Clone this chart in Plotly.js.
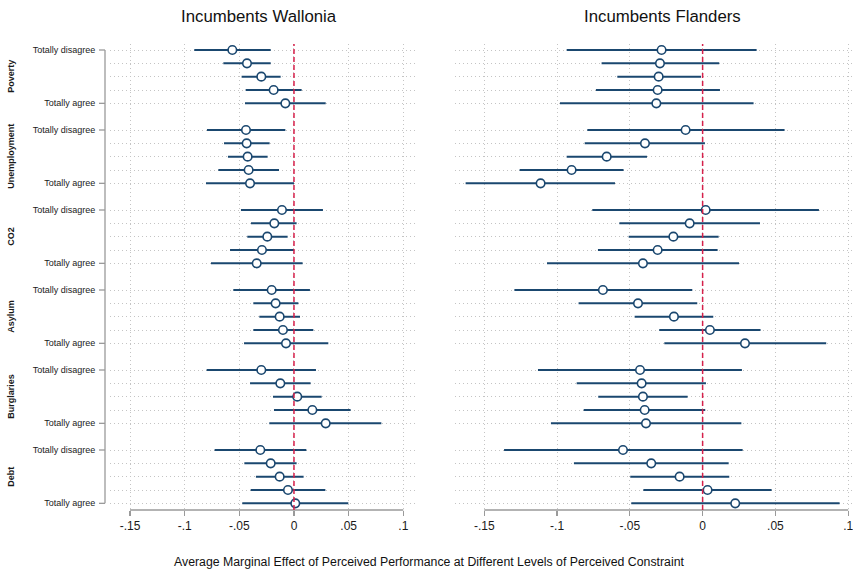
<!DOCTYPE html>
<html>
<head>
<meta charset="utf-8">
<script src="https://cdn.plot.ly/plotly-3.0.1.min.js"></script>
<style>html,body{margin:0;padding:0;background:#fff;}#chart{width:853px;height:570px;}</style>
</head>
<body>
<div id="chart"></div>
<script>
// ---- data ----
const groups = ['Poverty', 'Unemployment', 'CO2', 'Asylum', 'Burglaries', 'Debt'];
const levelLabels = ['Totally disagree', '', '', '', 'Totally agree'];
const panelTitles = ['Incumbents Wallonia', 'Incumbents Flanders'];
const xTickVals = [-0.15, -0.1, -0.05, 0, 0.05, 0.1];
const xTickText = ['-.15', '-.1', '-.05', '0', '.05', '.1'];
const xTitle = 'Average Marginal Effect of Perceived Performance at Different Levels of Perceived Constraint';

const walEst = [-0.0564, -0.0430, -0.0299, -0.0186, -0.0079,
  -0.0439, -0.0433, -0.0424, -0.0415, -0.0402,
  -0.0110, -0.0180, -0.0244, -0.0293, -0.0341,
  -0.0204, -0.0168, -0.0131, -0.0101, -0.0073,
  -0.0299, -0.0125, 0.0030, 0.0168, 0.0290,
  -0.0308, -0.0213, -0.0131, -0.0055, 0.0012];
const walLo = [-0.0912, -0.0646, -0.0479, -0.0442, -0.0448,
  -0.0796, -0.0640, -0.0604, -0.0692, -0.0805,
  -0.0485, -0.0393, -0.0427, -0.0585, -0.0759,
  -0.0555, -0.0372, -0.0317, -0.0372, -0.0457,
  -0.0799, -0.0402, -0.0192, -0.0183, -0.0226,
  -0.0726, -0.0454, -0.0348, -0.0396, -0.0473];
const walHi = [-0.0213, -0.0213, -0.0122, 0.0070, 0.0290,
  -0.0079, -0.0223, -0.0241, -0.0137, 0.0000,
  0.0265, 0.0024, -0.0058, 0.0000, 0.0079,
  0.0146, 0.0040, 0.0055, 0.0177, 0.0314,
  0.0201, 0.0152, 0.0253, 0.0518, 0.0799,
  0.0113, 0.0024, 0.0088, 0.0287, 0.0497];

const flaEst = [-0.0282, -0.0293, -0.0302, -0.0309, -0.0318,
  -0.0117, -0.0396, -0.0659, -0.0900, -0.1113,
  0.0021, -0.0089, -0.0201, -0.0309, -0.0410,
  -0.0685, -0.0444, -0.0197, 0.0050, 0.0291,
  -0.0430, -0.0419, -0.0410, -0.0398, -0.0389,
  -0.0547, -0.0353, -0.0158, 0.0034, 0.0224];
const flaLo = [-0.0934, -0.0694, -0.0586, -0.0733, -0.0980,
  -0.0792, -0.0810, -0.0934, -0.1257, -0.1628,
  -0.0758, -0.0572, -0.0508, -0.0719, -0.1069,
  -0.1293, -0.0852, -0.0467, -0.0298, -0.0263,
  -0.1131, -0.0865, -0.0717, -0.0817, -0.1042,
  -0.1364, -0.0884, -0.0497, -0.0407, -0.0490];
const flaHi = [0.0371, 0.0114, -0.0011, 0.0119, 0.0350,
  0.0563, 0.0016, -0.0382, -0.0543, -0.0602,
  0.0799, 0.0394, 0.0110, 0.0103, 0.0250,
  -0.0071, -0.0037, 0.0073, 0.0398, 0.0849,
  0.0270, 0.0023, -0.0103, 0.0018, 0.0266,
  0.0275, 0.0179, 0.0183, 0.0474, 0.0941];

// ---- layout helpers ----
const W = 853, H = 570;
const FONT = '"Liberation Sans", Arial, Helvetica, sans-serif';
const NAVY = '#1a476f';
const RED = '#d6204a';
const AXC = '#9a9a9a';
const GRIDC = '#c4c4c4';
const px = v => v / W;
const py = v => 1 - v / H;

const nLev = levelLabels.length;
const step = nLev + 1;
const rows = [], rowText = [];
groups.forEach((g, gi) => levelLabels.forEach((l, li) => { rows.push(gi * step + li); rowText.push(l); }));
const lastRow = rows[rows.length - 1];

function trace(est, lo, hi, xa, ya) {
  return {
    type: 'scatter', mode: 'markers', x: est, y: rows, xaxis: xa, yaxis: ya,
    marker: { symbol: 'circle', size: 8.5, color: '#ffffff', line: { color: NAVY, width: 1.6 } },
    error_x: {
      type: 'data', symmetric: false,
      array: hi.map((h, i) => h - est[i]),
      arrayminus: lo.map((l, i) => est[i] - l),
      width: 0, thickness: 2, color: NAVY
    },
    hoverinfo: 'x+y', showlegend: false, cliponaxis: false
  };
}

const data = [trace(walEst, walLo, walHi, 'x', 'y'), trace(flaEst, flaLo, flaHi, 'x2', 'y2')];

const yDomain = [py(510), py(44)];
const yRange = [lastRow + 0.5, -0.45];

const xBase = {
  tickvals: xTickVals, ticktext: xTickText, ticks: 'outside', ticklen: 5, tickwidth: 1.3, tickcolor: AXC,
  showline: false, zeroline: false, showgrid: true, gridcolor: GRIDC, griddash: '1px,3px', gridwidth: 1,
  tickfont: { family: FONT, size: 12, color: '#1a1a1a' }, fixedrange: true, ticklabeloverflow: 'allow'
};
const yBase = {
  range: yRange, domain: yDomain, tickvals: rows, ticktext: rowText,
  ticks: 'outside', ticklen: 12, tickcolor: 'rgba(0,0,0,0)',
  showline: false, zeroline: false, showgrid: true, gridcolor: GRIDC, griddash: '1px,3px', gridwidth: 1,
  tickfont: { family: FONT, size: 9, color: '#1a1a1a' }, fixedrange: true
};

const shapes = [];
const annotations = [];
// axis lines (Stata style: spanning the ticks only)
[['x', 'y'], ['x2', 'y2']].forEach(([xa]) => {
  shapes.push({ type: 'line', xref: xa, yref: 'paper', x0: xTickVals[0], x1: xTickVals[xTickVals.length - 1],
    y0: py(510), y1: py(510), line: { color: AXC, width: 1.3 } });
  shapes.push({ type: 'line', xref: xa, yref: (xa === 'x' ? 'y domain' : 'y2 domain'), x0: 0, x1: 0, y0: 0, y1: 1,
    line: { color: RED, width: 1.5, dash: '5px,3px' } });
});
shapes.push({ type: 'line', xref: 'paper', yref: 'y', x0: px(105), x1: px(105), y0: 0, y1: lastRow,
  line: { color: AXC, width: 1.3 } });
rows.forEach((r, i) => {
  if (rowText[i]) shapes.push({ type: 'line', xref: 'paper', yref: 'y', x0: px(99), x1: px(105), y0: r, y1: r,
    line: { color: AXC, width: 1.3 } });
});
groups.forEach((g, gi) => {
  annotations.push({ text: '<b>' + g + '</b>', xref: 'paper', yref: 'y', x: px(11), y: gi * step + (nLev - 1) / 2,
    textangle: -90, showarrow: false, xanchor: 'center', yanchor: 'middle',
    font: { family: FONT, size: 9, color: '#1a1a1a' } });
});
annotations.push({ text: panelTitles[0], xref: 'paper', yref: 'paper', x: px(258.5), y: py(17), showarrow: false,
  xanchor: 'center', yanchor: 'middle', font: { family: FONT, size: 16.8, color: '#111' } });
annotations.push({ text: panelTitles[1], xref: 'paper', yref: 'paper', x: px(662), y: py(17), showarrow: false,
  xanchor: 'center', yanchor: 'middle', font: { family: FONT, size: 16.8, color: '#111' } });
annotations.push({ text: xTitle, xref: 'paper', yref: 'paper', x: px(429), y: py(562), showarrow: false,
  xanchor: 'center', yanchor: 'middle', font: { family: FONT, size: 12.3, color: '#111' } });

const layout = {
  width: W, height: H, margin: { l: 0, r: 0, t: 0, b: 0 },
  paper_bgcolor: '#fff', plot_bgcolor: '#fff', showlegend: false,
  xaxis: Object.assign({}, xBase, { domain: [px(110), px(415)], range: [-0.1683, 0.1107], anchor: 'y' }),
  yaxis: Object.assign({}, yBase, { anchor: 'x' }),
  xaxis2: Object.assign({}, xBase, { domain: [px(455), px(853)], range: [-0.1701, 0.1033], anchor: 'y2' }),
  yaxis2: Object.assign({}, yBase, { anchor: 'x2', showticklabels: false, ticks: '' }),
  shapes: shapes, annotations: annotations
};

Plotly.newPlot('chart', data, layout, { displayModeBar: false, staticPlot: true });
</script>
</body>
</html>
